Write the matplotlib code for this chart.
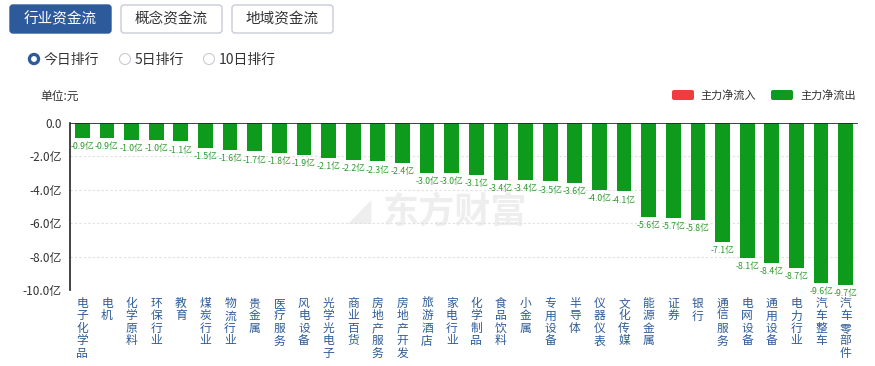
import matplotlib.pyplot as plt
import numpy as np
from matplotlib.patches import FancyBboxPatch, Circle

plt.rcParams["font.family"] = ["Noto Sans CJK SC", "DejaVu Sans"]
plt.rcParams["axes.unicode_minus"] = False

industries = [
    "电子化学品", "电机", "化学原料", "环保行业", "教育", "煤炭行业", "物流行业", "贵金属",
    "医疗服务", "风电设备", "光学光电子", "商业百货", "房地产服务", "房地产开发", "旅游酒店",
    "家电行业", "化学制品", "食品饮料", "小金属", "专用设备", "半导体", "仪器仪表", "文化传媒",
    "能源金属", "证券", "银行", "通信服务", "电网设备", "通用设备", "电力行业", "汽车整车",
    "汽车零部件",
]
net_flow = [
    -0.9, -0.9, -1.0, -1.0, -1.1, -1.5, -1.6, -1.7,
    -1.8, -1.9, -2.1, -2.2, -2.3, -2.4, -3.0,
    -3.0, -3.1, -3.4, -3.4, -3.5, -3.6, -4.0, -4.1,
    -5.6, -5.7, -5.8, -7.1, -8.1, -8.4, -8.7, -9.6,
    -9.7,
]
y_ticks = [0.0, -2.0, -4.0, -6.0, -8.0, -10.0]
y_tick_labels = ["0.0", "-2.0亿", "-4.0亿", "-6.0亿", "-8.0亿", "-10.0亿"]

GREEN = "#0e9a1c"
RED = "#f23c3c"
BLUE = "#2d5a9b"
LABEL_BLUE = "#2f5c99"

fig = plt.figure(figsize=(8.75, 3.66), dpi=100)

# top buttons / radio row, drawn in figure pixel coordinates
overlay = fig.add_axes([0, 0, 1, 1])
overlay.set_xlim(0, 875)
overlay.set_ylim(366, 0)
overlay.axis("off")

buttons = [("行业资金流", 10, True), ("概念资金流", 121, False), ("地域资金流", 232, False)]
for text, x0, active in buttons:
    box = FancyBboxPatch((x0, 5), 101, 28, boxstyle="round,pad=0,rounding_size=3",
                         fc=BLUE if active else "white",
                         ec=BLUE if active else "#c8ccd4", lw=1)
    overlay.add_patch(box)
    overlay.text(x0 + 50.5, 19.5, text, ha="center", va="center", fontsize=10.5,
                 color="white" if active else "#333333")

radios = [("今日排行", 34, True), ("5日排行", 125, False), ("10日排行", 209, False)]
for text, cx, active in radios:
    if active:
        overlay.add_patch(Circle((cx, 59), 5.5, fc=BLUE, ec=BLUE))
        overlay.add_patch(Circle((cx, 59), 2.2, fc="white", ec="white"))
    else:
        overlay.add_patch(Circle((cx, 59), 5.5, fc="white", ec="#c8ccd4", lw=0.8))
    overlay.text(cx + 10, 59.5, text, ha="left", va="center", fontsize=10, color="#333333")

overlay.text(40, 96, "单位:元", ha="left", va="center", fontsize=8.5, color="#333333")

# legend
overlay.add_patch(FancyBboxPatch((672, 90), 22, 10, boxstyle="round,pad=0,rounding_size=2",
                                 fc=RED, ec="none"))
overlay.text(700, 95.5, "主力净流入", ha="left", va="center", fontsize=8, color="#333333")
overlay.add_patch(FancyBboxPatch((771, 90), 22, 10, boxstyle="round,pad=0,rounding_size=2",
                                 fc=GREEN, ec="none"))
overlay.text(800, 95.5, "主力净流出", ha="left", va="center", fontsize=8, color="#333333")

# watermark
overlay.text(360, 212, "◢", ha="center", va="center", fontsize=22,
             color="#eeeeee", zorder=0, family="DejaVu Sans")
overlay.text(455, 212, "东方财富", ha="center", va="center", fontsize=26,
             fontweight="bold", color="#eeeeee", zorder=0)

# main chart
ax = fig.add_axes([70 / 875, 1 - 290 / 366, 788 / 875, (290 - 123) / 366])
ax.patch.set_alpha(0)
x = np.arange(len(industries))
ax.bar(x, net_flow, width=0.6, color=GREEN, zorder=2)

ax.set_xlim(-0.5, len(industries) - 0.5)
ax.set_ylim(-10, 0)
ax.set_yticks(y_ticks)
ax.set_yticklabels(y_tick_labels, fontsize=8.5, color="#333333")
ax.set_xticks([])
ax.tick_params(axis="y", length=0, pad=6)
for y in y_ticks[1:]:
    ax.axhline(y, color="#e0e0e0", lw=0.8, ls=(0, (2, 2)), zorder=0)
ax.axhline(0, color="#222222", lw=1.2, zorder=3)
for side in ["top", "right", "bottom"]:
    ax.spines[side].set_visible(False)
ax.spines["left"].set_color("#222222")
ax.spines["left"].set_linewidth(1.2)

for xi, v in zip(x, net_flow):
    ax.annotate(f"{v:.1f}亿", (xi, v), xytext=(0, -3), textcoords="offset points",
                ha="center", va="top", fontsize=6.3, color="#2e9a2e", zorder=4)

for xi, name in zip(x, industries):
    ax.annotate("\n".join(name), (xi, -10), xytext=(0, -5), textcoords="offset points",
                ha="center", va="top", fontsize=8.5, color=LABEL_BLUE,
                linespacing=0.95, annotation_clip=False)

fig.savefig("out.png", dpi=100)
